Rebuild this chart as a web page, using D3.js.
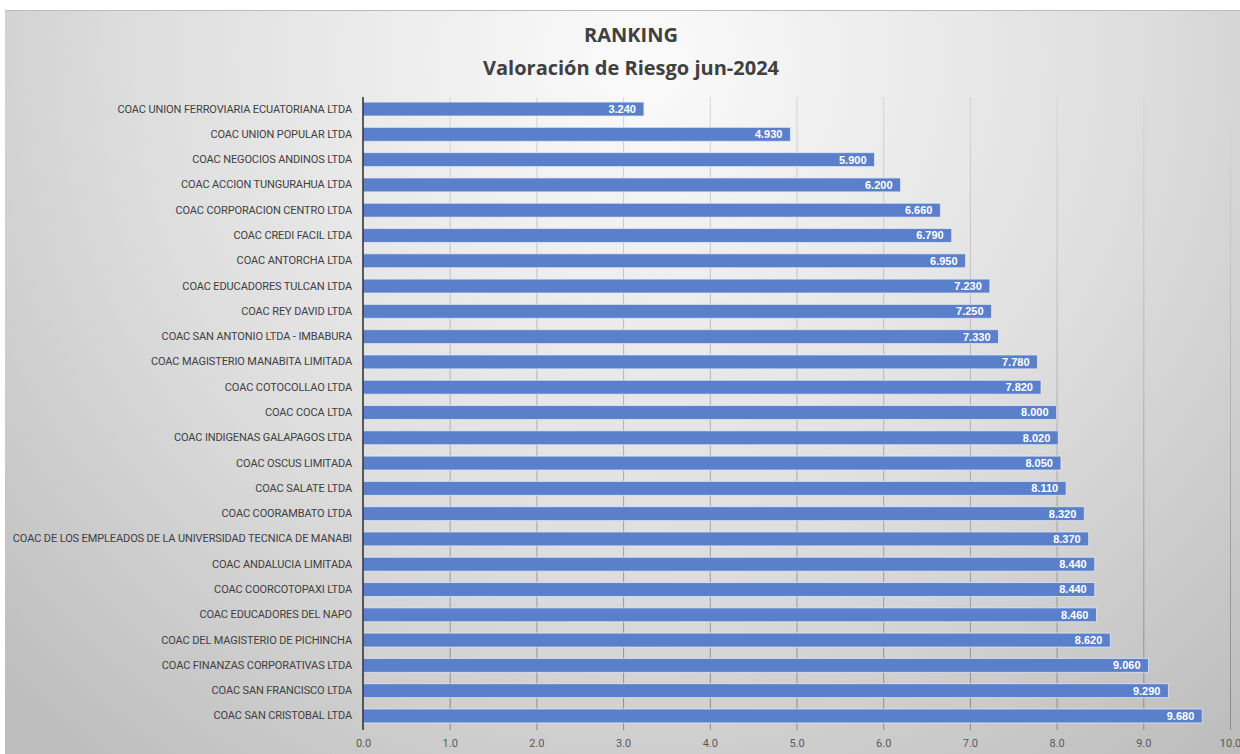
<!DOCTYPE html>
<html>
<head>
<meta charset="utf-8">
<script src="https://cdn.jsdelivr.net/npm/d3@7"></script>
<style>
body{margin:0;background:#fff;}
svg{display:block;}
</style>
</head>
<body>
<div id="chart"></div>
<script>
var width=1240, height=754;
var margin={top:97, right:10, bottom:24, left:363};

var titleLines=["RANKING", "Valoración de Riesgo jun-2024"];
var categories=["COAC UNION FERROVIARIA ECUATORIANA LTDA","COAC UNION POPULAR LTDA","COAC NEGOCIOS ANDINOS LTDA",
  "COAC ACCION TUNGURAHUA LTDA","COAC CORPORACION CENTRO LTDA","COAC CREDI FACIL LTDA","COAC ANTORCHA LTDA",
  "COAC EDUCADORES TULCAN LTDA","COAC REY DAVID LTDA","COAC SAN ANTONIO LTDA - IMBABURA","COAC MAGISTERIO MANABITA LIMITADA",
  "COAC COTOCOLLAO LTDA","COAC COCA LTDA","COAC INDIGENAS GALAPAGOS LTDA","COAC OSCUS LIMITADA","COAC SALATE LTDA",
  "COAC COORAMBATO LTDA","COAC DE LOS EMPLEADOS DE LA UNIVERSIDAD TECNICA DE MANABI","COAC ANDALUCIA LIMITADA",
  "COAC COORCOTOPAXI LTDA","COAC EDUCADORES DEL NAPO","COAC DEL MAGISTERIO DE PICHINCHA","COAC FINANZAS CORPORATIVAS LTDA",
  "COAC SAN FRANCISCO LTDA","COAC SAN CRISTOBAL LTDA"];
var values=[3.24,4.93,5.90,6.20,6.66,6.79,6.95,7.23,7.25,7.33,7.78,7.82,8.00,8.02,8.05,8.11,8.32,8.37,8.44,8.44,8.46,8.62,9.06,9.29,9.68];
var xTicks=[0,1,2,3,4,5,6,7,8,9,10];

var svg=d3.select('#chart').append('svg')
    .attr('width', width)
    .attr('height', height);

var defs=svg.append('defs');
var bg=defs.append('radialGradient').attr('id','bg')
    .attr('gradientUnits','userSpaceOnUse')
    .attr('cx',640).attr('cy',60).attr('r',900);
bg.append('stop').attr('offset','0%').attr('stop-color','#fbfbfb');
bg.append('stop').attr('offset','55%').attr('stop-color','#dedede');
bg.append('stop').attr('offset','100%').attr('stop-color','#bdbdbd');

var gridGrad=defs.append('linearGradient').attr('id','gridg')
    .attr('gradientUnits','userSpaceOnUse')
    .attr('x1',0).attr('y1',margin.top).attr('x2',0).attr('y2',730);
gridGrad.append('stop').attr('offset','0%').attr('stop-color','#d6d6d6');
gridGrad.append('stop').attr('offset','100%').attr('stop-color','#8a8a8a');

svg.append('rect')
    .attr('x',5).attr('y',10)
    .attr('width',width-5).attr('height',height-10)
    .attr('fill','url(#bg)');
svg.append('line')
    .attr('x1',5).attr('x2',width).attr('y1',10.5).attr('y2',10.5)
    .attr('stroke','#bcbcbc');

// titulo
svg.append('text')
    .attr('x',631).attr('y',42)
    .attr('text-anchor','middle')
    .style('font-family','"Open Sans", sans-serif')
    .style('font-weight','bold')
    .style('font-size','20px')
    .style('fill','#404040')
    .text(titleLines[0]);
svg.append('text')
    .attr('x',631).attr('y',75)
    .attr('text-anchor','middle')
    .style('font-family','"Open Sans", sans-serif')
    .style('font-weight','bold')
    .style('font-size','20px')
    .style('fill','#404040')
    .text(titleLines[1]);

var x=d3.scaleLinear()
    .domain([0,10])
    .range([margin.left, width-margin.right]);

var y=d3.scaleBand()
    .domain(categories)
    .range([96.4, 728.6])
    .paddingInner(0.45)
    .paddingOuter(0.225);

// gridlines
svg.append('g')
    .selectAll('line')
    .data(xTicks.slice(1))
    .enter().append('line')
    .attr('x1', d=>x(d)+0.5).attr('x2', d=>x(d)+0.5)
    .attr('y1', margin.top).attr('y2', 730)
    .attr('stroke','url(#gridg)')
    .attr('stroke-width',1);

svg.append('g')
    .selectAll('rect')
    .data(values)
    .enter().append('rect')
    .attr('x', x(0))
    .attr('y', (d,i)=>y(categories[i]))
    .attr('width', d=>x(d)-x(0))
    .attr('height', y.bandwidth())
    .attr('fill','#5b80cb')
    .attr('stroke','#e8eef8')
    .attr('stroke-opacity',0.7)
    .attr('stroke-width',1);

svg.append('g')
    .selectAll('text')
    .data(values)
    .enter().append('text')
    .attr('x', d=>x(d)-8)
    .attr('y', (d,i)=>y(categories[i])+y.bandwidth()/2)
    .attr('dy','0.36em')
    .attr('text-anchor','end')
    .style('font-family','"Liberation Sans", Arial, sans-serif')
    .style('font-weight','bold')
    .style('font-size','11px')
    .style('fill','#ffffff')
    .text(d=>d.toFixed(3));

// eje y
var yAxis=svg.append('g')
    .attr('transform','translate('+margin.left+',0)')
    .call(d3.axisLeft(y).tickSize(0).tickPadding(11));
yAxis.select('.domain').remove();
yAxis.selectAll('text')
    .style('font-family','Roboto, sans-serif')
    .style('font-size','11px')
    .style('letter-spacing','-0.12px')
    .style('fill','#404040');
svg.append('line')
    .attr('x1',margin.left).attr('x2',margin.left)
    .attr('y1',margin.top).attr('y2',730)
    .attr('stroke','#2b2b2b').attr('stroke-width',1.5);

// eje x
var xAxis=svg.append('g')
    .attr('transform','translate(0,730)')
    .call(d3.axisBottom(x).tickValues(xTicks).tickFormat(d3.format('.1f')).tickSize(0).tickPadding(9));
xAxis.select('.domain').remove();
xAxis.selectAll('text')
    .style('font-family','Roboto, sans-serif')
    .style('font-size','11px')
    .style('fill','#595959');
</script>
</body>
</html>
